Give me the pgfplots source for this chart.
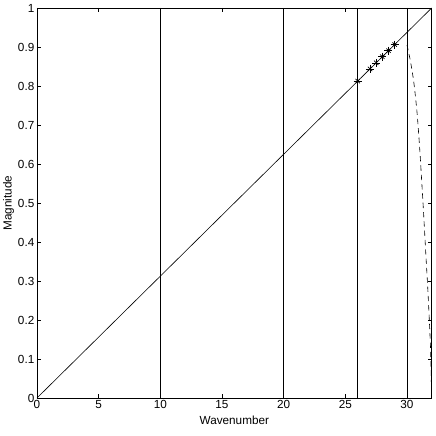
\documentclass[border=0pt]{standalone}
\usepackage{pgfplots}
\pgfplotsset{compat=1.18}
\usepackage{fontspec}
\setmainfont{Liberation Sans}
\begin{document}
\fontsize{8.5}{10}\selectfont
\begin{tikzpicture}
\begin{axis}[
  scale only axis,
  width=296pt, height=292.5pt,
  xmin=0, xmax=32, ymin=0, ymax=1,
  xtick={0,5,10,15,20,25,30},
  ytick={0,0.1,0.2,0.3,0.4,0.5,0.6,0.7,0.8,0.9,1},
  yticklabels={0,0.1,0.2,0.3,0.4,0.5,0.6,0.7,0.8,0.9,1},
  tick align=inside,
  major tick length=3pt,
  tick style={black, line width=0.4pt},
  axis line style={line width=0.5pt},
  /pgf/number format/assume math mode=true,
  ticklabel style={font=\fontsize{8.8}{10}\selectfont},
  label style={font=\fontsize{8.8}{10}\selectfont},
  xlabel={Wavenumber},
  ylabel={Magnitude},
  xlabel style={yshift=1pt},
  ylabel style={yshift=-3pt},
  xticklabel style={yshift=1pt},
  yticklabel style={xshift=1pt},
]
\addplot[black, line width=0.45pt] coordinates {(0,0) (32,1)};
\addplot[black, line width=0.55pt] coordinates {(10,0) (10,1)};
\addplot[black, line width=0.55pt] coordinates {(20,0) (20,1)};
\addplot[black, line width=0.55pt] coordinates {(26,0) (26,1)};
\addplot[black, line width=0.55pt] coordinates {(30,0) (30,1)};
\addplot[black, line width=0.45pt, dashed, dash pattern=on 4pt off 3pt, smooth] coordinates {
(30,0.905) (30.27,0.865) (30.55,0.81) (30.82,0.73) (31.04,0.635) (31.15,0.578) (31.29,0.505) (31.43,0.425) (31.56,0.35) (31.67,0.29) (31.78,0.22) (31.9,0.135) (31.95,0.07) (32,0)};
\addplot[black, only marks, mark=+, mark size=3pt, line width=0.5pt] coordinates {
(26,0.8125) (27,0.84375) (27.5,0.859375) (28,0.875) (28.5,0.890625) (29,0.90625)};
\addplot[black, only marks, mark=x, mark size=2.3pt, line width=0.5pt] coordinates {
(26,0.8125) (27,0.84375) (27.5,0.859375) (28,0.875) (28.5,0.890625) (29,0.90625)};
\end{axis}
\pgfresetboundingbox
\path (current axis.south west) ++(-27.75pt,-28.5pt) coordinate (a);
\path (current axis.north east) ++(3pt,6pt) coordinate (b);
\useasboundingbox (a) rectangle (b);
\end{tikzpicture}
\end{document}
